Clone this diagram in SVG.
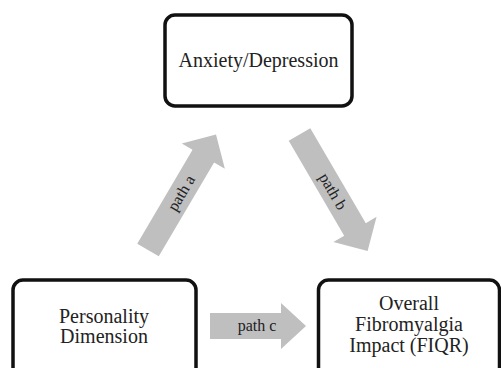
<svg xmlns="http://www.w3.org/2000/svg" width="501" height="368" viewBox="0 0 501 368">
<style>
.box{fill:#fff;stroke:#111;stroke-width:3.5}
.lbl{font-family:"Liberation Serif","Times New Roman",serif;font-size:20px;fill:#222;text-anchor:middle}
.arr{fill:#bfbfbf}
.al{font-family:"Liberation Serif","Times New Roman",serif;font-size:16px;fill:#222;text-anchor:middle}
</style>
<rect width="501" height="368" fill="#fff"/>
<g id="connectors">
<g id="path-a" transform="translate(148,250) rotate(-59.5)">
<polygon class="arr" points="0,-12.5 109,-12.5 109,-25 134,0 109,25 109,12.5 0,12.5"/>
<text class="al" x="66" y="5">path a</text>
</g>
<g id="path-b" transform="translate(299.5,134.5) rotate(59.7)">
<polygon class="arr" points="0,-12.5 110,-12.5 110,-25 135,0 110,25 110,12.5 0,12.5"/>
<text class="al" x="66" y="5">path b</text>
</g>
<g id="path-c">
<polygon class="arr" points="210,313 281,313 281,303 306,326 281,349 281,339 210,339"/>
<text class="al" x="257" y="331">path c</text>
</g>
</g>
<g id="anxiety">
<rect class="box" x="165" y="15" width="187" height="91" rx="10"/>
<text class="lbl" x="258.5" y="67">Anxiety/Depression</text>
</g>
<g id="personality">
<rect class="box" x="13" y="280" width="183" height="110" rx="10"/>
<text class="lbl" x="104" y="323">Personality</text>
<text class="lbl" x="104" y="343">Dimension</text>
</g>
<g id="fiqr">
<rect class="box" x="318.5" y="280" width="181" height="110" rx="10"/>
<text class="lbl" x="409" y="310">Overall</text>
<text class="lbl" x="409" y="331">Fibromyalgia</text>
<text class="lbl" x="409" y="352">Impact (FIQR)</text>
</g>
</svg>
